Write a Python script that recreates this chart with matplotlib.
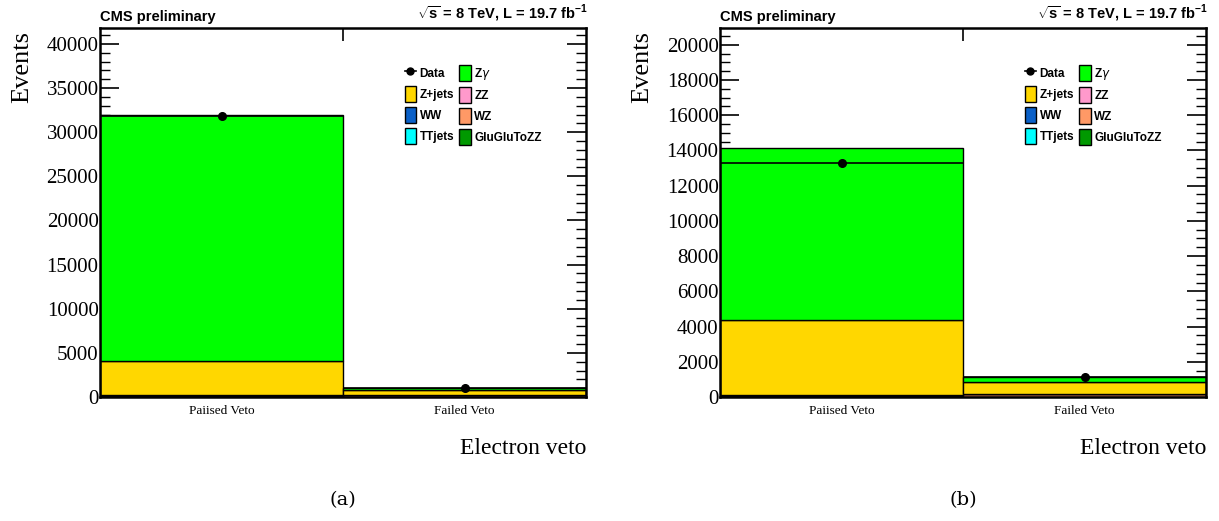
import numpy as np
import matplotlib
matplotlib.use("Agg")
import matplotlib.pyplot as plt
from matplotlib.ticker import MultipleLocator, FixedLocator
from matplotlib.patches import Patch
from matplotlib.lines import Line2D

plt.rcParams['mathtext.fontset'] = 'custom'
plt.rcParams['mathtext.rm'] = 'Liberation Sans:bold'
plt.rcParams['mathtext.bf'] = 'Liberation Sans:bold'

# Datos
bins = ['Paiised Veto', 'Failed Veto']
procesos = ['GluGluToZZ', 'TTjets', 'WZ', 'WW', 'ZZ', 'Z+jets', r'Z$\gamma$']
colores = ['#009900', '#00ffff', '#ff9966', '#0a60c8', '#ff99cc', '#ffd700', '#00ff00']

# panel (a)
a_gg = [10, 3]
a_tt = [40, 20]
a_wz = [60, 200]
a_ww = [30, 10]
a_zz = [40, 15]
a_zjets = [3900, 600]
a_zg = [27850, 170]
a_data = [31850, 1000]

# panel (b)
b_gg = [8, 3]
b_tt = [30, 15]
b_wz = [50, 150]
b_ww = [20, 8]
b_zz = [30, 10]
b_zjets = [4250, 680]
b_zg = [9750, 280]
b_data = [13280, 1150]

serif = 'Liberation Serif'
sans = 'Liberation Sans'

W, H = 1219, 521
fig = plt.figure(figsize=(W / 100, H / 100), dpi=100)


def panel(x0, stacks, data, ymax, major, minor, letra):
    ax = fig.add_axes([x0 / W, (H - 397) / H, 486 / W, 369 / H])
    x = np.arange(len(bins))
    base = np.zeros(len(bins))
    for vals, col in zip(stacks, colores):
        vals = np.array(vals, dtype=float)
        ax.bar(x + 0.5, vals, width=1.0, bottom=base, color=col,
               edgecolor='black', linewidth=1.0, zorder=2)
        base = base + vals
    data = np.array(data, dtype=float)
    ax.errorbar(x + 0.5, data, yerr=np.sqrt(data), xerr=0.5, fmt='o',
                color='black', ms=5.5, elinewidth=1.2, capsize=0, zorder=4)
    ax.set_xlim(0, 2)
    ax.set_ylim(0, ymax)
    ax.set_xticks(x + 0.5)
    ax.set_xticklabels(bins, fontfamily=serif, fontsize=9.5)
    ax.xaxis.set_minor_locator(FixedLocator([1.0]))
    ax.tick_params(axis='x', which='major', length=0, pad=6)
    ax.tick_params(axis='x', which='minor', direction='in', length=9,
                   width=1.2, top=True, bottom=True)
    ax.yaxis.set_major_locator(MultipleLocator(major))
    ax.yaxis.set_minor_locator(MultipleLocator(minor))
    ax.tick_params(axis='y', which='major', direction='in', length=14,
                   width=1.2, right=True, labelsize=15, pad=1)
    ax.tick_params(axis='y', which='minor', direction='in', length=7,
                   width=1.0, right=True)
    for lab in ax.get_yticklabels():
        lab.set_fontfamily(serif)
    for s in ax.spines.values():
        s.set_linewidth(1.8)
        s.set_zorder(5)
    ax.set_ylabel('Events', fontfamily=serif, fontsize=19)
    ax.yaxis.set_label_coords(-0.138, 0.895)
    ax.set_xlabel('Electron veto', fontfamily=serif, fontsize=17)
    ax.xaxis.set_label_coords(1.0, -0.11)
    ax.xaxis.label.set_horizontalalignment('right')

    ax.text(0.0, 1.012, 'CMS preliminary', transform=ax.transAxes,
            fontfamily=sans, fontweight='bold', fontsize=10.5, va='bottom')
    ax.text(1.005, 1.012, r'$\sqrt{\mathrm{s}}$ = 8 TeV, L = 19.7 fb$^{-1}$',
            transform=ax.transAxes, fontfamily=sans, fontweight='bold',
            fontsize=10.5, va='bottom', ha='right')

    # leyenda en dos columnas
    h = {p: Patch(facecolor=c, edgecolor='black', linewidth=1.0)
         for p, c in zip(procesos, colores)}
    hdata = Line2D([], [], color='black', marker='o', ms=5, lw=1.2)
    handles = [hdata, h['Z+jets'], h['WW'], h['TTjets'],
               h[r'Z$\gamma$'], h['ZZ'], h['WZ'], h['GluGluToZZ']]
    labels = ['Data', 'Z+jets', 'WW', 'TTjets',
              r'Z$\gamma$', 'ZZ', 'WZ', 'GluGluToZZ']
    ax.legend(handles, labels, ncol=2, loc='upper left',
              bbox_to_anchor=(0.615, 0.915), frameon=False,
              prop={'family': sans, 'weight': 'bold', 'size': 8.5},
              handlelength=0.95, handleheight=1.7, handletextpad=0.3,
              columnspacing=0.45, labelspacing=0.42, borderpad=0)

    fig.text((x0 + 243) / W, (H - 500) / H, letra, fontfamily='DejaVu Serif',
             fontsize=14, ha='center', va='center')
    return ax


panel(100, [a_gg, a_tt, a_wz, a_ww, a_zz, a_zjets, a_zg], a_data,
      41800, 5000, 1000, '(a)')
panel(720, [b_gg, b_tt, b_wz, b_ww, b_zz, b_zjets, b_zg], b_data,
      20950, 2000, 500, '(b)')

fig.savefig('out.png', dpi=100)
